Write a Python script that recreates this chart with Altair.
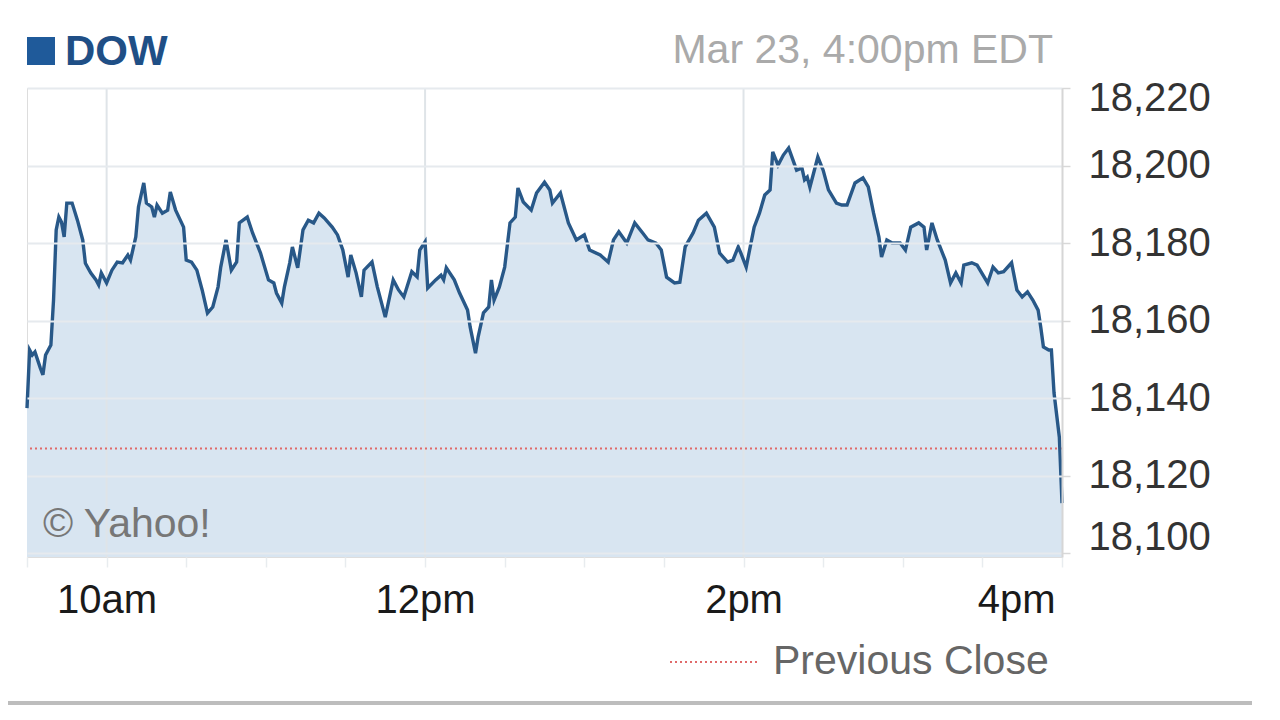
import altair as alt
import pandas as pd

# minutes after 9:30am, Mar 23
minutes = [0, 1, 2, 3, 5, 6, 7, 8, 9, 10, 11, 12, 13, 14, 15, 17, 19, 21, 22, 24, 26, 27, 28, 30,
           32, 34, 36, 38, 39, 41, 42, 44, 45, 47, 48, 49, 51, 53, 54, 56, 59, 60, 62, 64, 66, 68,
           70, 72, 73, 75, 77, 79, 80, 83, 85, 88, 91, 93, 94, 96, 97, 99, 100, 102, 104, 106, 108,
           110, 112, 115, 117, 119, 121, 122, 124, 126, 127, 130, 132, 135, 138, 140, 142, 145, 147,
           148, 150, 151, 154, 156, 157, 158, 161, 163, 166, 167, 169, 170, 172, 174, 175, 176, 178,
           180, 182, 184, 185, 187, 190, 192, 195, 197, 198, 201, 204, 207, 210, 212, 216, 219, 221,
           223, 226, 229, 232, 234, 237, 239, 241, 244, 246, 248, 251, 253, 256, 259, 261, 264, 266,
           268, 269, 271, 274, 276, 278, 280, 281, 283, 285, 287, 290, 292, 293, 294, 295, 298, 300,
           302, 305, 307, 309, 312, 315, 317, 319, 321, 322, 324, 326, 329, 331, 333, 336, 338, 339,
           341, 343, 346, 348, 350, 352, 353, 356, 358, 362, 364, 366, 368, 371, 373, 375, 377, 379,
           381, 382, 383, 385, 386, 387, 389, 390]
values = [18137.4, 18152.4, 18151.1, 18151.9, 18147.8, 18146.0, 18151.1, 18152.4, 18153.7, 18165.3,
          18183.4, 18186.7, 18185.4, 18181.6, 18190.3, 18190.3, 18185.9, 18180.8, 18174.8, 18172.3,
          18170.5, 18169.2, 18172.3, 18169.7, 18173.0, 18175.1, 18174.9, 18176.9, 18175.6, 18181.6,
          18189.3, 18195.5, 18190.3, 18189.3, 18186.7, 18189.8, 18187.7, 18188.5, 18193.2, 18188.5,
          18184.1, 18175.6, 18175.1, 18173.0, 18167.9, 18161.9, 18163.5, 18168.7, 18173.8, 18180.8,
          18173.0, 18175.1, 18185.2, 18186.7, 18182.6, 18177.4, 18170.5, 18169.7, 18167.1, 18164.5,
          18168.7, 18174.9, 18179.0, 18173.6, 18183.4, 18185.9, 18185.2, 18187.7, 18186.5, 18184.1,
          18182.1, 18178.2, 18171.2, 18176.9, 18172.3, 18166.1, 18173.0, 18175.1, 18168.7, 18160.9,
          18170.5, 18167.9, 18166.1, 18172.6, 18171.3, 18178.2, 18180.3, 18168.4, 18170.5, 18171.7,
          18170.5, 18173.6, 18170.5, 18167.1, 18162.7, 18158.3, 18151.6, 18155.8, 18162.0, 18163.5,
          18170.5, 18165.3, 18168.7, 18173.8, 18185.2, 18186.7, 18194.2, 18190.6, 18188.5, 18192.9,
          18195.7, 18193.7, 18190.3, 18192.9, 18185.2, 18180.8, 18182.1, 18178.2, 18176.9, 18175.1,
          18180.8, 18182.9, 18180.0, 18185.2, 18182.6, 18180.8, 18180.0, 18178.2, 18171.2, 18169.7,
          18169.9, 18179.0, 18182.6, 18185.9, 18187.7, 18184.1, 18177.4, 18175.1, 18175.6, 18179.0,
          18177.4, 18173.8, 18184.1, 18187.7, 18192.4, 18193.7, 18203.5, 18200.1, 18202.7, 18204.5,
          18198.8, 18199.4, 18196.3, 18197.0, 18194.4, 18202.2, 18198.8, 18193.7, 18190.3, 18189.8,
          18189.8, 18195.5, 18196.8, 18194.5, 18187.7, 18181.6, 18176.4, 18180.8, 18180.0, 18180.0,
          18178.2, 18184.1, 18185.2, 18184.1, 18178.2, 18185.2, 18180.8, 18175.6, 18169.7, 18172.3,
          18169.7, 18174.3, 18174.9, 18174.3, 18169.7, 18173.8, 18172.3, 18172.6, 18174.9, 18167.9,
          18166.1, 18167.4, 18165.3, 18162.7, 18158.3, 18153.2, 18152.4, 18152.4, 18141.3, 18129.9,
          18112.9]

prev_close = 18127
y_min, y_max = 18099, 18220
y_ticks = [18100, 18120, 18140, 18160, 18180, 18200, 18220]
x_label_minutes = [30, 150, 270, 390]
x_labels = ["10am", "12pm", "2pm", "4pm"]
x_minor_minutes = [0, 30, 60, 90, 120, 150, 180, 210, 240, 270, 300, 330, 360, 390]
grid_minutes = [30, 150, 270]

FONT = "Liberation Sans"

df = pd.DataFrame({"m": minutes, "v": values})

label_expr = "".join(f"datum.value == {m} ? '{t}' : " for m, t in zip(x_label_minutes, x_labels)) + "''"

xscale = alt.Scale(domain=[0, 390], nice=False, zero=False)
yscale = alt.Scale(domain=[y_min, y_max], nice=False, zero=False)

xaxis = alt.Axis(values=x_minor_minutes, labelExpr=label_expr, grid=False, domain=False,
                 ticks=True, tickColor="#e8ecef", tickSize=10, tickWidth=1.5,
                 labelFontSize=40, labelColor="#1a1a1a", labelPadding=13, labelFont=FONT,
                 labelFlush=True,
                 labelOffset={"condition": [{"test": "datum.value == 390", "value": -7}],
                              "value": 0},
                 labelOverlap=False, title=None)
yaxis = alt.Axis(orient="right", values=y_ticks, format=",d", grid=True, gridColor="#e6eaee",
                 gridWidth=2, domain=True, domainColor="#d6d6d6", domainWidth=2,
                 ticks=True, tickColor="#d8d8d8", tickSize=8, tickWidth=1.5,
                 labelFontSize=40, labelColor="#333333", labelPadding=18, labelFont=FONT,
                 labelOffset={"condition": [{"test": "datum.value == 18220", "value": 10},
                                            {"test": "datum.value == 18100", "value": -16}],
                              "value": 0},
                 labelOverlap=False, title=None, zindex=1)


def X(f):
    return alt.X(f"{f}:Q", scale=xscale, axis=xaxis)


def Y(f):
    return alt.Y(f"{f}:Q", scale=yscale, axis=yaxis)


base = alt.Chart(df)
area = base.mark_area(color="#d8e5f1").encode(x=X("m"), y=Y("v"), y2=alt.datum(y_min))
vgrid = alt.Chart(pd.DataFrame({"m": grid_minutes})).mark_rule(
    color="#dfe4e8", strokeWidth=2).encode(x=X("m"))
prev = alt.Chart(pd.DataFrame({"v": [prev_close]})).mark_rule(
    color="#e06a6a", strokeWidth=2, strokeDash=[2, 3]).encode(y=Y("v"))
line = base.mark_line(color="#285888", strokeWidth=3.4).encode(x=X("m"), y=Y("v"))

one = alt.Data(values=[{}])
legend_sq = alt.Chart(one).mark_rect(color="#1f5a9a").encode(
    x=alt.value(0), x2=alt.value(28), y=alt.value(-51), y2=alt.value(-23))
legend_txt = alt.Chart(one).mark_text(text="DOW", font=FONT, fontSize=42, fontWeight="bold",
                                      color="#1f4f86", align="left", baseline="alphabetic").encode(
    x=alt.value(38), y=alt.value(-23))
date_txt = alt.Chart(one).mark_text(text="Mar 23, 4:00pm EDT", font=FONT, fontSize=41,
                                    color="#aaaaaa", align="right", baseline="alphabetic").encode(
    x=alt.value(1026), y=alt.value(-25))
yahoo_txt = alt.Chart(one).mark_text(text="© Yahoo!", font=FONT, fontSize=41,
                                     color="#777777", align="left", baseline="alphabetic").encode(
    x=alt.value(16), y=alt.value(449))
pc_sample = alt.Chart(one).mark_rule(color="#e06a6a", strokeWidth=2, strokeDash=[2, 3]).encode(
    x=alt.value(643), x2=alt.value(730), y=alt.value(574))
pc_txt = alt.Chart(one).mark_text(text="Previous Close", font=FONT, fontSize=41,
                                  color="#666666", align="left", baseline="middle").encode(
    x=alt.value(746), y=alt.value(574))
sep = alt.Chart(one).mark_rule(color="#bdbdbd", strokeWidth=4).encode(
    x=alt.value(-19), x2=alt.value(1225), y=alt.value(615))

chart = alt.layer(area, vgrid, prev, line, legend_sq, legend_txt, date_txt, yahoo_txt,
                  pc_sample, pc_txt, sep).properties(
    width=1035, height=469,
    autosize=alt.AutoSizeParams(type="none"),
    padding={"left": 19, "top": 80, "right": 210, "bottom": 155},
).configure_view(stroke="#dddddd", strokeWidth=2).configure(font=FONT)

chart.save("out.html", embed_options={"renderer": "svg", "actions": False})
